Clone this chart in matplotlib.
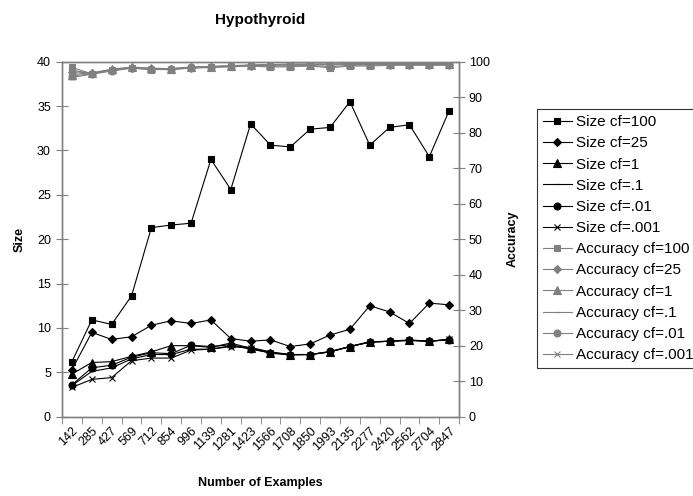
import numpy as np
import matplotlib.pyplot as plt
from matplotlib.ticker import MultipleLocator, FixedLocator

plt.rcParams['font.family'] = ['Liberation Sans', 'DejaVu Sans']

examples = ['142', '285', '427', '569', '712', '854', '996', '1139', '1281', '1423',
            '1566', '1708', '1850', '1993', '2135', '2277', '2420', '2562', '2704', '2847']

# tree size per confidence factor
size_cf100 = [6.2, 10.9, 10.4, 13.6, 21.3, 21.6, 21.8, 29.0, 25.6, 33.0,
              30.6, 30.4, 32.4, 32.6, 35.5, 30.6, 32.6, 32.9, 29.3, 34.5]
size_cf25 = [5.3, 9.5, 8.7, 9.0, 10.3, 10.8, 10.5, 10.9, 8.8, 8.5,
             8.65, 7.9, 8.2, 9.2, 9.85, 12.5, 11.8, 10.5, 12.8, 12.6]
size_cf1 = [4.8, 6.1, 6.2, 6.8, 7.3, 8.0, 8.0, 7.8, 8.3, 7.7,
            7.15, 6.95, 7.0, 7.3, 7.9, 8.45, 8.5, 8.65, 8.5, 8.7]
size_cf_1 = [3.5, 5.1, 5.5, 6.5, 7.0, 7.0, 7.6, 7.6, 8.0, 7.8,
             7.3, 7.0, 7.0, 7.3, 7.9, 8.4, 8.5, 8.6, 8.5, 8.7]
size_cf01 = [3.6, 5.5, 5.8, 6.7, 7.2, 7.1, 8.05, 7.9, 8.1, 7.6,
             7.2, 7.0, 7.0, 7.35, 7.9, 8.4, 8.5, 8.6, 8.5, 8.65]
size_cf001 = [3.3, 4.2, 4.4, 6.3, 6.6, 6.6, 7.5, 7.6, 7.9, 7.7,
              7.2, 7.0, 7.0, 7.3, 7.9, 8.4, 8.5, 8.6, 8.5, 8.7]

# accuracy per confidence factor
acc_cf100 = [98.4, 96.6, 97.7, 98.2, 97.8, 97.8, 98.2, 98.4, 98.6, 98.8,
             98.5, 98.6, 98.8, 98.3, 98.8, 98.8, 99.0, 99.0, 99.0, 99.0]
acc_cf25 = [97.2, 96.8, 97.6, 98.3, 98.0, 97.9, 98.3, 98.5, 98.7, 98.9,
            98.8, 98.8, 99.0, 98.6, 99.0, 99.1, 99.2, 99.2, 99.2, 99.2]
acc_cf1 = [96.4, 96.9, 97.9, 98.5, 98.2, 98.0, 98.4, 98.6, 98.8, 99.0,
           99.0, 99.1, 99.2, 99.1, 99.3, 99.3, 99.4, 99.4, 99.4, 99.4]
acc_cf_1 = [97.6, 96.7, 97.8, 98.4, 98.1, 98.1, 98.5, 98.7, 98.9, 99.1,
            99.2, 99.3, 99.3, 99.3, 99.4, 99.4, 99.5, 99.5, 99.5, 99.5]
acc_cf01 = [96.0, 96.6, 97.5, 98.3, 98.0, 98.0, 98.4, 98.6, 98.8, 99.0,
            99.2, 99.3, 99.3, 99.3, 99.4, 99.4, 99.5, 99.5, 99.5, 99.5]
acc_cf001 = [95.6, 96.5, 97.4, 98.2, 97.9, 97.9, 98.3, 98.5, 98.7, 98.9,
             99.1, 99.2, 99.3, 99.3, 99.4, 99.4, 99.5, 99.5, 99.5, 99.5]

x = np.arange(len(examples))
gray = '#808080'

fig = plt.figure(figsize=(6.93, 4.96), dpi=100)
ax = fig.add_axes([0.0895, 0.16, 0.573, 0.7155])
ax2 = ax.twinx()

size_series = [(size_cf100, 's', 5, 'Size cf=100'), (size_cf25, 'D', 4.5, 'Size cf=25'),
               (size_cf1, '^', 5.5, 'Size cf=1'), (size_cf_1, '_', 5, 'Size cf=.1'),
               (size_cf01, 'o', 5, 'Size cf=.01'), (size_cf001, 'x', 5, 'Size cf=.001')]
acc_series = [(acc_cf100, 's', 5, 'Accuracy cf=100'), (acc_cf25, 'D', 4.5, 'Accuracy cf=25'),
              (acc_cf1, '^', 5.5, 'Accuracy cf=1'), (acc_cf_1, '_', 5, 'Accuracy cf=.1'),
              (acc_cf01, 'o', 5, 'Accuracy cf=.01'), (acc_cf001, 'x', 5, 'Accuracy cf=.001')]

handles = []
for vals, m, ms, lab in size_series:
    h, = ax.plot(x, vals, color='black', lw=0.8, marker=m, markersize=ms,
                 markeredgewidth=0.8, label=lab)
    handles.append(h)
for vals, m, ms, lab in acc_series:
    h, = ax2.plot(x, vals, color=gray, lw=0.8, marker=m, markersize=ms,
                  markeredgewidth=0.8, label=lab)
    handles.append(h)

ax.set_xlim(-0.5, len(examples) - 0.5)
ax.set_ylim(0, 40)
ax2.set_ylim(0, 100)
ax.yaxis.set_major_locator(MultipleLocator(5))
ax2.yaxis.set_major_locator(MultipleLocator(10))

ax.set_xticks(x)
ax.set_xticklabels(examples, rotation=45, ha='right', rotation_mode='anchor', fontsize=9)
ax.xaxis.set_minor_locator(FixedLocator(np.arange(-0.5, len(examples), 1)))
ax.tick_params(axis='x', which='major', length=0, pad=6)
ax.tick_params(axis='x', which='minor', length=5, direction='out', color=gray)
ax.tick_params(axis='y', direction='inout', length=8, color=gray, labelsize=9, pad=4)
ax2.tick_params(axis='y', direction='inout', length=8, color=gray, labelsize=9, pad=3)

for a in (ax, ax2):
    for s in a.spines.values():
        s.set_color(gray)
        s.set_linewidth(1.0)

ax.set_ylabel('Size', fontsize=9, fontweight='bold', labelpad=8)
ax2.set_ylabel('Accuracy', fontsize=9, fontweight='bold', labelpad=12)
ax.set_xlabel('Number of Examples', fontsize=9, fontweight='bold', labelpad=17)
ax.set_title('Hypothyroid', fontsize=11, fontweight='bold', pad=27)

leg = fig.legend(handles=handles, loc='upper left', bbox_to_anchor=(0.7745, 0.78),
                 numpoints=1, fontsize=11, frameon=True, fancybox=False,
                 edgecolor='black', handlelength=1.9, handletextpad=0.25,
                 labelspacing=0.47, borderpad=0.4, borderaxespad=0)
leg.get_frame().set_linewidth(0.8)

fig.savefig('out.png', dpi=100)
